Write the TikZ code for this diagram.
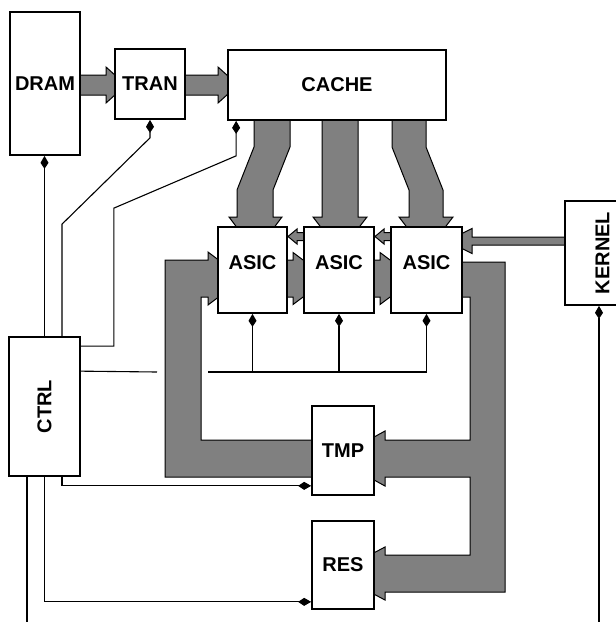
\documentclass[tikz,border=0pt]{standalone}
\usepackage{fontspec}
\setmainfont{Liberation Sans}
\usetikzlibrary{arrows.meta,calc,backgrounds}
\definecolor{busgray}{gray}{0.5}
\begin{document}
\begin{tikzpicture}[x=1pt,y=-1pt,
  box/.style={draw, line width=1.7pt, fill=white, inner sep=0pt,
    font=\fontsize{20}{22}\selectfont\bfseries},
  bus/.style={draw, line width=1pt, fill=busgray, line join=miter},
  ctl/.style={line width=1.1pt, -{Kite[length=13pt,width=8pt,inset=6pt]}},
  wire/.style={line width=1.1pt}]
\useasboundingbox (0,0) rectangle (616,622);
\clip (0,0) rectangle (616,622);

% boxes
\node[box, minimum width=70pt, minimum height=143pt] (DRAM) at (45,83.5) {DRAM};
\node[box, minimum width=70pt, minimum height=70pt] (TRAN) at (150,84) {TRAN};
\node[box, minimum width=218pt, minimum height=70pt] (CACHE) at (337,85) {CACHE};
\node[box, minimum width=69pt, minimum height=86pt, text height=14pt, text depth=16pt] (ASIC1) at (252.5,270) {ASIC};
\node[box, minimum width=70pt, minimum height=86pt, text height=14pt, text depth=16pt] (ASIC2) at (339,270) {ASIC};
\node[box, minimum width=71pt, minimum height=86pt, text height=14pt, text depth=16pt] (ASIC3) at (426.5,270) {ASIC};
\node[box, minimum width=75pt, minimum height=104pt] (KERNEL) at (602.5,253) {\rotatebox{90}{KERNEL}};
\node[box, minimum width=71pt, minimum height=139pt] (CTRL) at (44.5,406.5) {\rotatebox{90}{CTRL}};
\node[box, minimum width=62pt, minimum height=89pt] (TMP) at (343,450.5) {TMP};
\node[box, minimum width=62pt, minimum height=88pt] (RES) at (343,565) {RES};

% data buses (behind the boxes)
\begin{scope}[on background layer]
  % DRAM -> TRAN, TRAN -> CACHE
  \draw[bus] (76,75) -- (106,75) -- (106,67) -- (126,85) -- (106,103) -- (106,95) -- (76,95) -- cycle;
  \draw[bus] (181,75) -- (218,75) -- (218,67) -- (238,85) -- (218,103) -- (218,95) -- (181,95) -- cycle;
  % CACHE -> ASICs
  \draw[bus] (254,115) -- (290,115) -- (290,147) -- (273,190) -- (273,217) -- (282,217)
     -- (255.5,252) -- (229,217) -- (237,217) -- (237,190) -- (254,147) -- cycle;
  \draw[bus] (322,115) -- (358,115) -- (358,217) -- (367,217) -- (340,252) -- (313,217) -- (322,217) -- cycle;
  \draw[bus] (392,115) -- (426,115) -- (426,147) -- (443,190) -- (443,217) -- (453,217)
     -- (426,252) -- (399,217) -- (409,217) -- (409,190) -- (392,147) -- cycle;
  % TMP -> ASIC1
  \draw[bus] (316,440) -- (201,440) -- (201,297) -- (208,297) -- (208,305) -- (243,278.5)
     -- (208,252) -- (208,260) -- (165,260) -- (165,477) -- (316,477) -- cycle;
  % ASIC1 -> ASIC2 -> ASIC3
  \draw[bus] (283,260) -- (293,260) -- (293,252.5) -- (328,278.5) -- (293,304.5) -- (293,297) -- (283,297) -- cycle;
  \draw[bus] (370,260) -- (380,260) -- (380,252.5) -- (415,278.5) -- (380,304.5) -- (380,297) -- (370,297) -- cycle;
  % ASIC3 -> ASIC2 -> ASIC1 (small)
  \draw[bus] (308,232.5) -- (297,232.5) -- (297,229) -- (288,236.5) -- (297,244) -- (297,240.5) -- (308,240.5) -- cycle;
  \draw[bus] (395,232.5) -- (384,232.5) -- (384,229) -- (375,236.5) -- (384,244) -- (384,240.5) -- (395,240.5) -- cycle;
  % KERNEL -> ASIC3
  \draw[bus] (569,237) -- (472,237) -- (472,228.5) -- (447,241) -- (472,253.5) -- (472,245) -- (569,245) -- cycle;
  % ASIC3 -> TMP, RES
  \draw[bus] (458,262) -- (505,262) -- (505,592) -- (385,592) -- (385,600) -- (335,573.5)
     -- (385,547) -- (385,555) -- (470,555) -- (470,477) -- (385,477) -- (385,486)
     -- (335,458.5) -- (385,431) -- (385,440) -- (470,440) -- (470,297) -- (458,297) -- cycle;
\end{scope}

% control lines
\draw[ctl] (CTRL.north) -- (CTRL.north |- DRAM.south);
\coordinate (tranbend) at ($(TRAN.south)+(0,18)$);
\draw[ctl] ($(CTRL.north)+(17.5,0)$) -- ++(0,-112) -- (tranbend) -- (TRAN.south);
\coordinate (cachebend) at ($(CACHE.south west)+(9,35)$);
\draw[ctl] ($(CTRL.north east)+(0,10)$) -- ++(33,0) -- ++(0,-138) -- (cachebend) -- ($(CACHE.south west)+(9,0)$);
\coordinate (gapL) at (157,372);
\coordinate (gapR) at (208,372);
\draw[wire] ($(CTRL.north east)+(0,35)$) -- (gapL);
\draw[wire] (gapR) -- (ASIC3.south |- gapR);
\draw[ctl] (ASIC1.south |- gapR) -- (ASIC1.south);
\draw[ctl] (ASIC2.south |- gapR) -- (ASIC2.south);
\draw[ctl] (ASIC3.south |- gapR) -- (ASIC3.south);
\draw[ctl] ($(CTRL.south)+(17.5,0)$) |- ($(TMP.south west)+(0,-10)$);
\draw[ctl] (CTRL.south) |- ($(RES.south west)+(0,-8)$);
\coordinate (ctrlfree) at (27,622);
\draw[wire] ($(CTRL.south)+(-17.5,0)$) -- (ctrlfree);
\coordinate (kernfree) at (599,622);
\draw[ctl] (kernfree) -- (kernfree |- KERNEL.south);
\end{tikzpicture}
\end{document}
